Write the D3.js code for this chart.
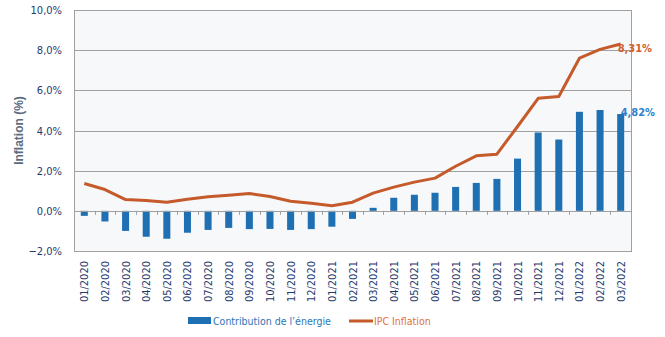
<!DOCTYPE html>
<html>
<head>
<meta charset="utf-8">
<script src="https://cdn.jsdelivr.net/npm/d3@7"></script>
<style>
  body { margin: 0; background: #fff; }
</style>
</head>
<body>
<svg id="chart" width="665" height="337" font-family="DejaVu Sans Condensed, DejaVu Sans, sans-serif"></svg>
<script>
// months, energy contribution (bars) and CPI inflation (line), in %
const months = ["01/2020","02/2020","03/2020","04/2020","05/2020","06/2020","07/2020","08/2020","09/2020",
  "10/2020","11/2020","12/2020","01/2021","02/2021","03/2021","04/2021","05/2021","06/2021",
  "07/2021","08/2021","09/2021","10/2021","11/2021","12/2021","01/2022","02/2022","03/2022"];
const energie = [-0.25,-0.53,-1.0,-1.29,-1.39,-1.09,-0.95,-0.85,-0.91,-0.9,-0.95,-0.91,-0.79,-0.4,
  0.15,0.65,0.8,0.9,1.19,1.39,1.59,2.6,3.9,3.55,4.93,5.02,4.82];
const inflation = [1.36,1.06,0.56,0.51,0.43,0.58,0.7,0.78,0.86,0.71,0.48,0.38,0.25,0.43,
  0.88,1.18,1.43,1.63,2.22,2.74,2.82,4.2,5.6,5.69,7.6,8.04,8.31];
const yTicks = [-2, 0, 2, 4, 6, 8, 10];

const barColor = "#1f6fb3", lineColor = "#c55a2b";
const fmt = v => d3.format(".1f")(v).replace(".", ",") + "%";

const svg = d3.select("#chart");
const m = {left: 74, right: 631, top: 10, bottom: 251};

const x = d3.scaleBand().domain(months).range([m.left, m.right]);
const y = d3.scaleLinear().domain([-2, 10]).range([m.bottom, m.top]);

// plot area
svg.append("rect")
  .attr("x", m.left).attr("y", m.top)
  .attr("width", m.right - m.left).attr("height", m.bottom - m.top)
  .attr("fill", "#f7f8fa");

// gridlines
svg.append("g").selectAll("line")
  .data(yTicks.filter(d => d > -2 && d < 10))
  .join("line")
  .attr("x1", m.left).attr("x2", m.right)
  .attr("y1", d => Math.round(y(d)) + 0.5).attr("y2", d => Math.round(y(d)) + 0.5)
  .attr("stroke", "#a0a0a0");

svg.append("rect")
  .attr("x", m.left + 0.5).attr("y", m.top + 0.5)
  .attr("width", m.right - m.left).attr("height", m.bottom - m.top)
  .attr("fill", "none").attr("stroke", "#a0a0a0");

// y axis labels
const yAxis = svg.append("g")
  .attr("transform", `translate(${m.left},0)`)
  .call(d3.axisLeft(y).tickValues(yTicks).tickSize(0).tickPadding(12).tickFormat(fmt));
yAxis.select(".domain").remove();
yAxis.attr("font-family", null).attr("font-size", null);
yAxis.selectAll("text")
  .attr("font-size", 11).attr("fill", "#1f3a6e");

svg.append("text")
  .attr("transform", `translate(19,${(m.top + m.bottom) / 2}) rotate(-90)`)
  .attr("text-anchor", "middle")
  .attr("dy", "0.35em")
  .attr("font-family", "Liberation Sans")
  .attr("font-size", 12).attr("font-weight", "bold")
  .attr("fill", "#5b6b7d")
  .text("Inflation (%)");

// bars
const bw = x.step() * 0.34;
svg.append("g").selectAll("rect")
  .data(energie)
  .join("rect")
  .attr("x", (d, i) => x(months[i]) + x.step() / 2 - bw / 2)
  .attr("y", d => y(Math.max(0, d)))
  .attr("width", bw)
  .attr("height", d => Math.abs(y(d) - y(0)))
  .attr("fill", barColor);

// ticks on the zero line
svg.append("g").selectAll("line")
  .data(months.slice(1))
  .join("line")
  .attr("x1", d => Math.round(x(d)) + 0.5).attr("x2", d => Math.round(x(d)) + 0.5)
  .attr("y1", y(0)).attr("y2", y(0) + 4)
  .attr("stroke", "#a0a0a0");
svg.append("line")
  .attr("x1", m.left).attr("x2", m.right)
  .attr("y1", Math.round(y(0)) + 0.5).attr("y2", Math.round(y(0)) + 0.5)
  .attr("stroke", "#a0a0a0");

// inflation line
const line = d3.line()
  .x((d, i) => x(months[i]) + x.step() / 2)
  .y(d => y(d));
svg.append("path")
  .datum(inflation)
  .attr("d", line)
  .attr("fill", "none")
  .attr("stroke", lineColor)
  .attr("stroke-width", 3)
  .attr("stroke-linejoin", "round");

// end labels
const last = months.length - 1;
const fmt2 = v => d3.format(".2f")(v).replace(".", ",") + "%";
svg.append("text")
  .attr("x", x(months[last]) + x.step() / 2 - 3)
  .attr("y", y(inflation[last]) + 8)
  .attr("font-size", 11).attr("font-weight", "bold")
  .attr("fill", "#d0602f")
  .text(fmt2(inflation[last]));
svg.append("text")
  .attr("x", x(months[last]) + x.step() / 2)
  .attr("y", y(energie[last]) + 2)
  .attr("font-size", 11).attr("font-weight", "bold")
  .attr("fill", "#2e7fcf")
  .text(fmt2(energie[last]));

// x labels
svg.append("g").selectAll("text")
  .data(months)
  .join("text")
  .attr("transform", d => `translate(${x(d) + x.step() / 2 + 4},${m.bottom + 10}) rotate(-90)`)
  .attr("text-anchor", "end")
  .attr("font-size", 11)
  .attr("fill", "#1f3a6e")
  .text(d => d);

// legend
const lg = svg.append("g").attr("font-size", 10.5);
lg.append("rect").attr("x", 188).attr("y", 317).attr("width", 23).attr("height", 7).attr("fill", barColor);
lg.append("text").attr("x", 213).attr("y", 325).attr("fill", "#2e75b6").text("Contribution de l’énergie");
lg.append("line").attr("x1", 349).attr("x2", 373).attr("y1", 321).attr("y2", 321)
  .attr("stroke", lineColor).attr("stroke-width", 3);
lg.append("text").attr("x", 374).attr("y", 325).attr("fill", "#e0723a").text("IPC Inflation");
</script>
</body>
</html>
